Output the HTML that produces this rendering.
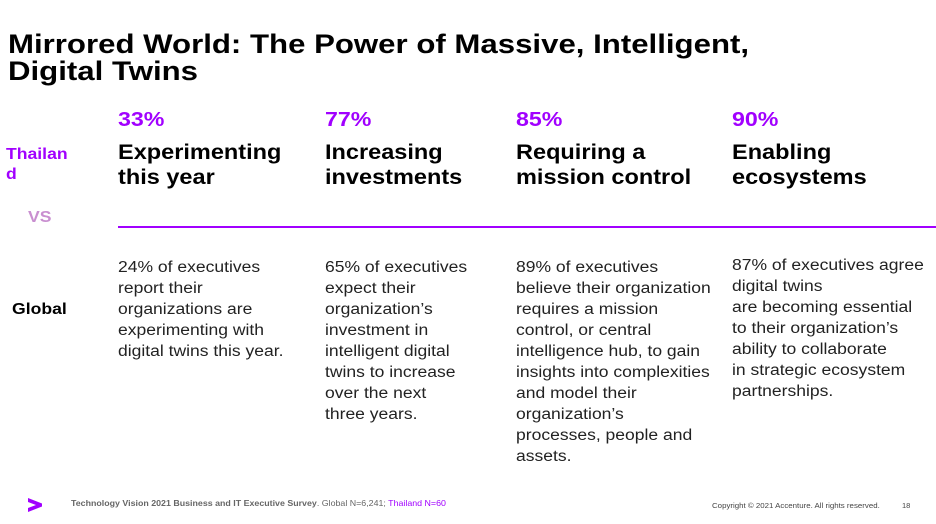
<!DOCTYPE html>
<html><head><meta charset="utf-8"><style>
body{margin:0;width:936px;height:524px;background:#fff;position:relative;overflow:hidden;font-family:"Liberation Sans",Arial,sans-serif;color:#000}
div{position:absolute;transform-origin:0 0;white-space:nowrap}
.t{left:8px;font-size:27px;font-weight:bold;line-height:27px;transform:scaleX(1.155)}
.pct{font-size:20px;font-weight:bold;color:#a100ff;top:109px;transform:scaleX(1.16)}
.h{font-size:21px;font-weight:bold;line-height:25px;top:140px;transform:scaleX(1.12)}
.b{font-size:15.5px;line-height:21px;top:257px;color:#222;transform:scaleX(1.13)}
</style></head><body>
<div class="t" style="top:31px">Mirrored World: The Power of Massive, Intelligent,<br>Digital Twins</div>
<div style="left:6px;top:145px;font-size:16px;font-weight:bold;color:#a100ff;line-height:20px;transform:scaleX(1.1)">Thailan<br>d</div>
<div style="left:28px;top:209px;font-size:16px;font-weight:bold;color:#c98fd0;transform:scaleX(1.1)">VS</div>
<div style="left:12px;top:301px;font-size:16px;font-weight:bold;transform:scaleX(1.1)">Global</div>
<div style="left:118px;top:226px;width:818px;height:2px;background:#a100ff"></div>

<div class="pct" style="left:118px">33%</div>
<div class="pct" style="left:325px">77%</div>
<div class="pct" style="left:516px">85%</div>
<div class="pct" style="left:732px">90%</div>

<div class="h" style="left:118px">Experimenting<br>this year</div>
<div class="h" style="left:325px">Increasing<br>investments</div>
<div class="h" style="left:516px">Requiring a<br>mission control</div>
<div class="h" style="left:732px">Enabling<br>ecosystems</div>

<div class="b" style="left:118px">24% of executives<br>report their<br>organizations are<br>experimenting with<br>digital twins this year.</div>
<div class="b" style="left:325px">65% of executives<br>expect their<br>organization’s<br>investment in<br>intelligent digital<br>twins to increase<br>over the next<br>three years.</div>
<div class="b" style="left:516px">89% of executives<br>believe their organization<br>requires a mission<br>control, or central<br>intelligence hub, to gain<br>insights into complexities<br>and model their<br>organization’s<br>processes, people and<br>assets.</div>
<div class="b" style="left:732px;top:255px">87% of executives agree<br>digital twins<br>are becoming essential<br>to their organization’s<br>ability to collaborate<br>in strategic ecosystem<br>partnerships.</div>

<svg style="position:absolute;left:28px;top:497px" width="16" height="16" viewBox="0 0 16 16"><polygon points="0,1 14,6.5 14,9.5 0,15 0,11 8,8 0,5" fill="#a100ff"/></svg>
<div style="left:71px;top:498px;font-size:8.5px;color:#666;transform:scaleX(1.04)"><b>Technology Vision 2021 Business and IT Executive Survey</b>. Global N=6,241; <span style="color:#a100ff">Thailand N=60</span></div>
<div style="left:712px;top:501px;font-size:7.5px;color:#444;transform:scaleX(1.05)">Copyright © 2021 Accenture. All rights reserved.</div>
<div style="left:902px;top:501px;font-size:7.5px;color:#444">18</div>
</body></html>
